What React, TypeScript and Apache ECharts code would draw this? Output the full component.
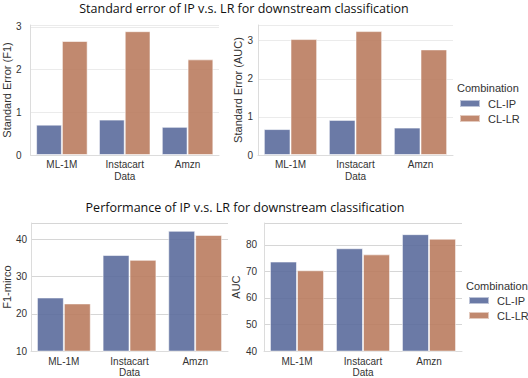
import React, { useEffect, useRef } from "react";
import * as echarts from "echarts";

const categories = ["ML-1M", "Instacart", "Amzn"];
const seriesNames = ["CL-IP", "CL-LR"];
const seF1IP = [0.71, 0.83, 0.66];
const seF1LR = [2.67, 2.9, 2.24];
const seAucIP = [0.68, 0.92, 0.72];
const seAucLR = [3.04, 3.25, 2.77];
const f1IP = [24.4, 35.8, 42.3];
const f1LR = [22.8, 34.5, 41.2];
const aucIP = [73.7, 78.7, 84.0];
const aucLR = [70.4, 76.4, 82.3];
const topTitle = "Standard error of IP v.s. LR for downstream classification";
const bottomTitle = "Performance of IP v.s. LR for downstream classification";
const legendTitle = "Combination";

const BLUE = "rgba(91,107,156,0.9)";
const ORANGE = "rgba(186,124,95,0.9)";
const FONT = "'Liberation Sans', Arial, sans-serif";

export default function App() {
  const ref = useRef<HTMLDivElement>(null);
  useEffect(() => {
    if (!ref.current) return;
    const chart = echarts.init(ref.current, undefined, { renderer: "svg" });
    const grids = [
      { left: 28, top: 25, width: 191, height: 130 },
      { left: 258, top: 25, width: 195, height: 130 },
      { left: 29, top: 223, width: 199, height: 130 },
      { left: 264, top: 223, width: 198, height: 130 },
    ];
    const yCfg = [
      { min: 0, max: 3.045, name: "Standard Error (F1)", nameGap: 17, margin: 9, grid: "#ebebeb" },
      { min: 0, max: 3.41, name: "Standard Error (AUC)", nameGap: 14, margin: 5, grid: "#ebebeb" },
      { min: 10, max: 44.4, name: "F1-mirco", nameGap: 18, margin: 4, grid: "#d6d6d6" },
      { min: 40, max: 88.2, name: "AUC", nameGap: 19, margin: 7, grid: "#d6d6d6" },
    ];
    const data = [
      [seF1IP, seF1LR],
      [seAucIP, seAucLR],
      [f1IP, f1LR],
      [aucIP, aucLR],
    ];
    const xAxis = grids.map((_, i) => ({
      type: "category",
      gridIndex: i,
      data: categories,
      name: "Data",
      nameLocation: "middle",
      nameGap: i < 2 ? 16 : 15,
      nameTextStyle: { fontFamily: FONT, fontSize: 10, color: "#333", verticalAlign: "top" },
      axisLine: { lineStyle: { color: "#dcdcdc", width: 1 } },
      axisTick: { show: false },
      axisLabel: { fontFamily: FONT, fontSize: 10, color: "#333", margin: i < 2 ? 4 : 5 },
    }));
    const yAxis = yCfg.map((c, i) => ({
      type: "value",
      gridIndex: i,
      min: c.min,
      max: c.max,
      interval: i < 2 ? 1 : 10,
      name: c.name,
      nameLocation: "middle",
      nameRotate: 90,
      nameGap: c.nameGap,
      nameTextStyle: { fontFamily: FONT, fontSize: 11, color: "#333" },
      axisLine: { show: true, lineStyle: { color: "#dcdcdc", width: 1 } },
      axisTick: { show: false },
      axisLabel: {
        fontFamily: FONT,
        fontSize: 10,
        color: "#333",
        margin: c.margin,
        showMaxLabel: false,
        formatter: (v: number) => (Math.abs(v - Math.round(v)) < 1e-6 ? String(Math.round(v)) : ""),
      },
      splitLine: { show: true, lineStyle: { color: c.grid, width: 1 } },
    }));
    const series: any[] = [];
    data.forEach((pair, i) => {
      pair.forEach((vals, j) => {
        series.push({
          type: "bar",
          name: seriesNames[j],
          xAxisIndex: i,
          yAxisIndex: i,
          data: vals,
          barGap: "0%",
          barCategoryGap: "18%",
          itemStyle: {
            color: j === 0 ? BLUE : ORANGE,
            borderColor: "rgba(255,255,255,0.55)",
            borderWidth: 1,
          },
        });
      });
    });
    const legendCommon = {
      orient: "vertical",
      icon: "rect",
      itemWidth: 20,
      itemHeight: 7,
      itemGap: 4,
      data: seriesNames,
      textStyle: { fontFamily: FONT, fontSize: 11, color: "#333", lineHeight: 11, padding: [0, 0, 0, 3] },
      padding: 0,
      selectedMode: false,
    };
    chart.setOption({
      animation: false,
      backgroundColor: "#ffffff",
      grid: grids.map((g) => ({ ...g, containLabel: false })),
      xAxis,
      yAxis,
      series,
      legend: [
        { ...legendCommon, left: 459, top: 98 },
        { ...legendCommon, left: 468, top: 295 },
      ],
      graphic: [
        {
          type: "text",
          x: 244,
          y: 8,
          style: {
            text: topTitle,
            fontFamily: "'Open Sans', 'Noto Sans', sans-serif",
            fontSize: 12.5,
            fill: "#111",
            textAlign: "center",
            textVerticalAlign: "middle",
          },
        },
        {
          type: "text",
          x: 245,
          y: 207,
          style: {
            text: bottomTitle,
            fontFamily: "'Open Sans', 'Noto Sans', sans-serif",
            fontSize: 12.5,
            fill: "#111",
            textAlign: "center",
            textVerticalAlign: "middle",
          },
        },
        {
          type: "text",
          x: 457,
          y: 88,
          style: { text: legendTitle, fontFamily: FONT, fontSize: 11, fill: "#333", textVerticalAlign: "middle" },
        },
        {
          type: "text",
          x: 466,
          y: 286,
          style: { text: legendTitle, fontFamily: FONT, fontSize: 11, fill: "#333", textVerticalAlign: "middle" },
        },
      ],
    });
    return () => chart.dispose();
  }, []);
  return (
    <div
      ref={ref}
      style={{ position: "fixed", left: 0, top: 0, width: 528, height: 378, background: "#fff" }}
    />
  );
}
